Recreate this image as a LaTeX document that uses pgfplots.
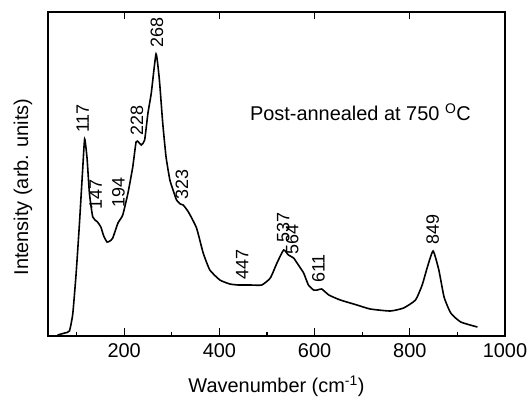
\documentclass[border=0pt]{standalone}
\usepackage{pgfplots}
\pgfplotsset{compat=1.18}
\usepackage{fontspec}
\setmainfont{Liberation Sans}
\begin{document}
\begin{tikzpicture}
\begin{axis}[
  name=main,
  scale only axis,
  width=457bp, height=324bp,
  xmin=40, xmax=1000,
  ymin=0, ymax=324,
  axis line style={line width=1.5pt},
  xtick={200,400,600,800,1000},
  minor xtick={100,300,500,700,900},
  xtick pos=bottom,
  ytick=\empty,
  tick align=inside,
  major tick length=8bp,
  minor tick length=4.5bp,
  every tick/.style={black, line width=1.2pt},
  tick label style={font=\fontsize{20}{22}\selectfont},
  /pgf/number format/assume math mode=true,
  /pgf/number format/1000 sep={},
  xticklabel style={yshift=-4bp},
  xlabel={Wavenumber (cm\textsuperscript{-1})},
  xlabel style={font=\fontsize{20}{22}\selectfont, at={(0.5,-0.155)}, anchor=center},
  ylabel={Intensity (arb. units)},
  ylabel style={font=\fontsize{20}{22}\selectfont, at={(-0.055,0.46)}, anchor=center},
  clip=false,
]
\addplot[black, line width=1.6pt, smooth, tension=0.3] coordinates {
(60,1) (75,3) (85,5) (92,22) (99,62) (106,112) (113,168) (117,197) (122,178)
(127,143) (134,119) (144,114) (151,109) (157,100) (164,94) (170,95) (176,98)
(187,113) (197,121) (208,143) (218,169) (225,194) (230,194) (236,191) (243,196)
(250,223) (257,243) (267,282) (274,256) (281,213) (288,179) (296,156) (302,147)
(310,136) (318,132) (324,131) (335,124) (352,108) (366,83) (380,66) (401,56)
(422,52) (440,51) (465,51) (489,51) (507,58) (521,73) (535,86) (545,81)
(556,78) (566,71) (577,63) (587,51) (598,46) (606,46) (615,47) (630,41)
(654,36) (689,31) (717,27) (759,25) (787,28) (812,36) (826,51) (837,69)
(849,85) (861,66) (872,39) (886,23) (907,14) (942,9)
};
\begin{scope}[every node/.style={rotate=90, anchor=west, inner sep=0pt, font=\fontsize{18}{20}\selectfont}]
\node at (axis cs:113,203) {117};
\node at (axis cs:269,288) {268};
\node at (axis cs:227,200) {228};
\node at (axis cs:140,126) {147};
\node at (axis cs:188,128) {194};
\node at (axis cs:321.5,136) {323};
\node at (axis cs:447.7,56) {447};
\node at (axis cs:534,93) {537};
\node at (axis cs:553,81) {564};
\node at (axis cs:608,53) {611};
\node at (axis cs:848,91) {849};
\end{scope}
\node[anchor=west, font=\fontsize{20}{22}\selectfont, inner sep=0pt] at (axis cs:464,224) {Post-annealed at 750 \textsuperscript{O}C};
\end{axis}
\begin{axis}[
  scale only axis,
  width=457bp, height=324bp,
  xmin=40, xmax=1000, ymin=0, ymax=324,
  axis x line*=top, axis y line=none,
  xtick={200,400,600,800}, xticklabels={},
  tick align=inside, major tick length=7bp,
  every tick/.style={black, line width=1.2pt},
  axis line style={line width=1.5pt},
]
\end{axis}
\pgfresetboundingbox
\path (main.south west) ++(-48bp,-60bp) coordinate (bl);
\path (main.north east) ++(23bp,12bp) coordinate (tr);
\path[use as bounding box] (bl) rectangle (tr);
\end{tikzpicture}
\end{document}
